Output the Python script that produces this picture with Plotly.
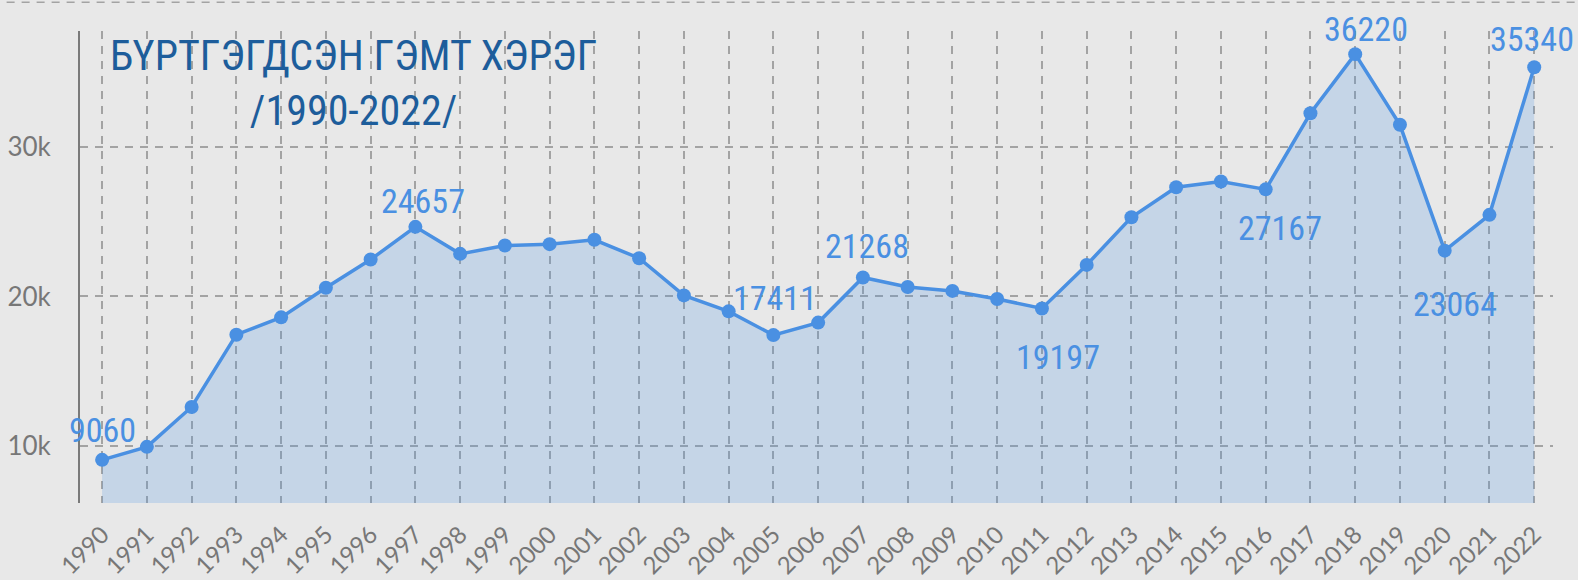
import plotly.graph_objects as go

years = list(range(1990, 2023))
crimes = [9060, 9930, 12600, 17440, 18600, 20580, 22470, 24657, 22850, 23410,
          23500, 23790, 22560, 20070, 19000, 17411, 18250, 21268, 20630, 20370,
          19830, 19197, 22110, 25300, 27310, 27690, 27167, 32260, 36220, 31490,
          23064, 25460, 35340]

label_years = [1990, 1997, 2005, 2007, 2011, 2016, 2018, 2020, 2022]
label_xshift = [0, 8, 2, 4, 16, 14, 11, 10, -2]
label_yshift = [30, 26, 37, 31, -49, -39, 25, -53, 28]

title_lines = ["БҮРТГЭГДСЭН ГЭМТ ХЭРЭГ", "/1990-2022/"]

BG = "#e8e8e8"
LINE = "#4a90e2"
GRID = "#a3a3a3"
NARROW = ("Liberation Sans Narrow, Roboto Condensed, Open Sans Condensed, "
          "Noto Sans Condensed, DejaVu Sans Condensed, sans-serif")

fig = go.Figure()
fig.add_trace(go.Scatter(
    x=years, y=crimes, mode="lines+markers",
    line=dict(color=LINE, width=3.5),
    marker=dict(color=LINE, size=14),
    fill="tozeroy", fillcolor="rgba(74,144,226,0.22)",
    showlegend=False, hoverinfo="x+y",
))

for yr, dx, dy in zip(label_years, label_xshift, label_yshift):
    val = crimes[years.index(yr)]
    fig.add_annotation(
        x=yr, y=val, xref="x", yref="y", text=str(val), showarrow=False,
        xshift=dx, yshift=dy,
        font=dict(family=NARROW, size=34, color=LINE),
    )

fig.add_annotation(
    x=(353 - 79.5) / 1473.5, y=1.0, xref="paper", yref="paper",
    xanchor="center", yanchor="top", yshift=2,
    text="<br>".join(title_lines), showarrow=False, align="center",
    font=dict(family=NARROW, size=42, color="#1d5d9b"),
)

# top dashed reference line (40k level, just above plot area)
fig.add_shape(type="line", xref="paper", yref="paper",
              x0=-0.06, x1=1.02, y0=1.061, y1=1.061,
              line=dict(color=GRID, width=1.5, dash="8px,7px"))

fig.update_layout(
    width=1578, height=580,
    margin=dict(l=79.5, r=25, t=31, b=77),
    paper_bgcolor=BG, plot_bgcolor=BG,
    xaxis=dict(
        range=[1989.506, 2022.42], tickmode="array", tickvals=years,
        ticktext=[str(y) for y in years], tickangle=-45, automargin=False,
        showgrid=True, gridcolor=GRID, gridwidth=1.5, griddash="8px,7px",
        zeroline=False, showline=False,
        ticks="outside", ticklen=7, tickcolor="rgba(0,0,0,0)",
        tickfont=dict(family="Lato, Open Sans, sans-serif", size=24, color="#777777"),
    ),
    yaxis=dict(
        range=[6172, 37769], tickmode="array", tickvals=[10000, 20000, 30000],
        ticktext=["10k", "20k", "30k"], automargin=False,
        showgrid=True, gridcolor=GRID, gridwidth=1.5, griddash="8px,7px",
        zeroline=False, showline=True, linecolor="#7a7a7a", linewidth=2,
        ticks="outside", ticklen=22, tickcolor="rgba(0,0,0,0)",
        tickfont=dict(family="Lato, Open Sans, sans-serif", size=26, color="#777777"),
    ),
)

fig.write_html(
    "out.html",
    config={"displayModeBar": False},
    post_script="document.body.style.margin='0';"
                "document.body.style.background='#e8e8e8';",
)
